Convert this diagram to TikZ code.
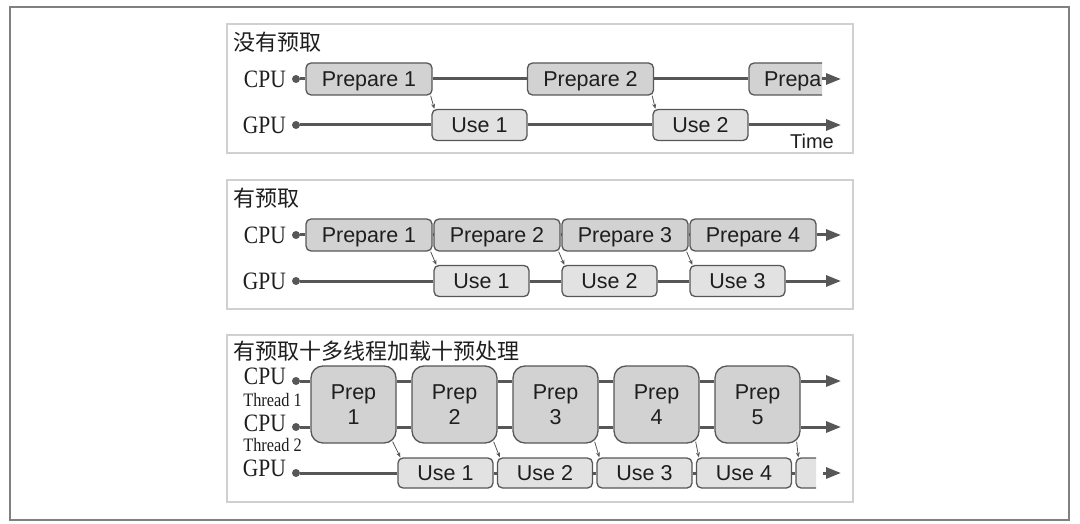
\documentclass[tikz,border=0pt]{standalone}
\usepackage{fontspec}
\usepackage{xcolor}
\usepackage{tikz}
\usetikzlibrary{arrows.meta}
\newfontfamily\cjkschrift{Noto Sans CJK SC}
\newfontfamily\boxschrift{Liberation Sans}
\newfontfamily\zeilschrift[FakeStretch=0.86]{Liberation Serif}
\definecolor{linie}{HTML}{575757}
\definecolor{rahmen}{HTML}{D0D0D0}
\definecolor{vorbfill}{HTML}{D2D2D2}
\definecolor{nutzfill}{HTML}{E2E2E2}
\definecolor{schrift}{HTML}{1E1E1E}
\tikzset{
    feld/.style      = {draw=linie, line width=1.3pt, rounded corners=5pt, inner sep=0pt,
                        text=schrift, font=\boxschrift\fontsize{21.5}{25}\selectfont},
    vorb/.style      = {feld, fill=vorbfill, minimum width=126pt, minimum height=32pt,
                        text height=15.5pt, text depth=0pt},
    nutz/.style      = {feld, fill=nutzfill, minimum width=95pt, minimum height=31pt,
                        text height=15.5pt, text depth=0pt},
    prep/.style      = {feld, fill=vorbfill, rounded corners=12pt, align=center,
                        minimum width=85pt, minimum height=77pt},
    spur/.style      = {draw=linie, line width=3pt},
    zeit/.style      = {spur, -{Triangle[length=15pt, width=11pt]}},
    punkt/.style     = {circle, fill=linie, inner sep=0pt, minimum size=8pt},
    uebergabe/.style = {draw=linie, line width=0.8pt, -{Stealth[length=5pt, width=4pt]}},
    tafel/.style     = {draw=rahmen, line width=1.3pt}
}

\begin{document}
\begin{tikzpicture}[x=1pt, y=-1pt,
        titel/.style      = {font=\cjkschrift\fontsize{22}{26}\selectfont, anchor=west,
                             inner sep=0pt, text=schrift},
        zeile/.style      = {font=\zeilschrift\fontsize{25}{28}\selectfont, anchor=east,
                             inner sep=0pt, text=schrift},
        unterzeile/.style = {zeile, font=\zeilschrift\fontsize{19}{22}\selectfont}]

        % Rahmen und Tafeln
        \useasboundingbox (0,0) rectangle (1080,524);
        \draw[draw=black!50, line width=1.6pt] (10,7) rectangle (1069,520);
        \draw[tafel] (227,24)  rectangle (853,153);
        \draw[tafel] (227,180) rectangle (853,309);
        \draw[tafel] (227,335) rectangle (853,502);

        % Ohne Vorabruf
        \node[titel] (t1) at (233,42) {没有预取};
        \node[zeile] (l11) at (286,79)  {CPU};
        \node[zeile] (l12) at (286,125) {GPU};
        \node[punkt] (d11) at (296,79)  {};
        \node[punkt] (d12) at (296,125) {};
        \node[vorb] (a1) at (369,79)   {Prepare 1};
        \node[vorb] (a2) at (590.5,79) {Prepare 2};
        \begin{scope}
            \clip (740,55) rectangle (822,105);
            \node[vorb, text width=96pt, align=left] (a3) at (812,79) {Prepa};
        \end{scope}
        \node[nutz] (b1) at (479.5,125) {Use 1};
        \node[nutz] (b2) at (700.5,125) {Use 2};
        \node[font=\boxschrift\fontsize{20}{24}\selectfont, text=schrift, inner sep=0pt]
            (zeitachse) at (812,141) {Time};
        \coordinate (e11) at (822,79);
        \coordinate (z11) at (841,79);
        \coordinate (z12) at (841,125);

        \draw[spur] (d11) -- (a1.west);
        \draw[spur] (a1.east) -- (a2.west);
        \draw[spur] (a2.east) -- (a3.west);
        \draw[zeit] (e11) -- (z11);
        \draw[spur] (d12) -- (b1.west);
        \draw[spur] (b1.east) -- (b2.west);
        \draw[zeit] (b2.east) -- (z12);
        \draw[uebergabe] ([xshift=-2pt]a1.south east) -- ([xshift=3pt]b1.north west);
        \draw[uebergabe] ([xshift=-2pt]a2.south east) -- ([xshift=3pt]b2.north west);

        % Mit Vorabruf
        \node[titel] (t2) at (233,198) {有预取};
        \node[zeile] (l21) at (286,235) {CPU};
        \node[zeile] (l22) at (286,281) {GPU};
        \node[punkt] (d21) at (296,235) {};
        \node[punkt] (d22) at (296,281) {};
        \foreach \k/\x in {1/369,2/497,3/625,4/753}
            \node[vorb] (c\k) at (\x,235) {Prepare \k};
        \foreach \k/\x in {1/481.5,2/609.5,3/737.5}
            \node[nutz] (u\k) at (\x,281) {Use \k};
        \coordinate (z21) at (841,235);
        \coordinate (z22) at (841,281);

        \draw[spur] (d21) -- (c1.west);
        \foreach \k/\n in {1/2,2/3,3/4} \draw[spur] (c\k.east) -- (c\n.west);
        \draw[zeit] (c4.east) -- (z21);
        \draw[spur] (d22) -- (u1.west);
        \foreach \k/\n in {1/2,2/3} \draw[spur] (u\k.east) -- (u\n.west);
        \draw[zeit] (u3.east) -- (z22);
        \foreach \k in {1,2,3}
            \draw[uebergabe] ([xshift=-2pt]c\k.south east) -- ([xshift=3pt]u\k.north west);

        % Vorabruf mit mehreren Threads
        \node[titel] (t3) at (233,351) {有预取十多线程加载十预处理};
        \node[zeile]      (l31) at (286,376) {CPU};
        \node[unterzeile] (m31) at (302,400) {Thread 1};
        \node[zeile]      (l32) at (286,423) {CPU};
        \node[unterzeile] (m32) at (302,445) {Thread 2};
        \node[zeile]      (l33) at (286,468) {GPU};
        \node[punkt] (d31) at (296,381) {};
        \node[punkt] (d32) at (296,427) {};
        \node[punkt] (d33) at (296,473) {};
        \foreach \k/\x in {1/353.5,2/454.5,3/555.5,4/656.5,5/757.5}
            \node[prep] (q\k) at (\x,404.5) {Prep\\\k};
        \foreach \k/\x in {1/445.5,2/545,3/644.5,4/744}
            \node[nutz, minimum height=30pt] (v\k) at (\x,473) {Use \k};
        \begin{scope}
            \clip (790,450) rectangle (816,495);
            \node[nutz, minimum height=30pt] (v5) at (843.5,473) {};
        \end{scope}
        \coordinate (e33) at (823,473);
        \coordinate (z31) at (841,381);
        \coordinate (z32) at (841,427);
        \coordinate (z33) at (841,473);

        \draw[spur] (d31) -- (d31 -| q1.west);
        \draw[spur] (d32) -- (d32 -| q1.west);
        \foreach \k/\n in {1/2,2/3,3/4,4/5} {
            \draw[spur] (q\k.east |- d31) -- (q\n.west |- d31);
            \draw[spur] (q\k.east |- d32) -- (q\n.west |- d32);
        }
        \draw[zeit] (q5.east |- d31) -- (z31);
        \draw[zeit] (q5.east |- d32) -- (z32);
        \draw[spur] (d33) -- (v1.west);
        \foreach \k/\n in {1/2,2/3,3/4,4/5} \draw[spur] (v\k.east) -- (v\n.west);
        \draw[zeit] (e33) -- (z33);
        \foreach \k in {1,2,3,4,5}
            \draw[uebergabe] ([xshift=-4pt, yshift=2pt]q\k.south east) -- ([xshift=3pt]v\k.north west);
\end{tikzpicture}
\end{document}
